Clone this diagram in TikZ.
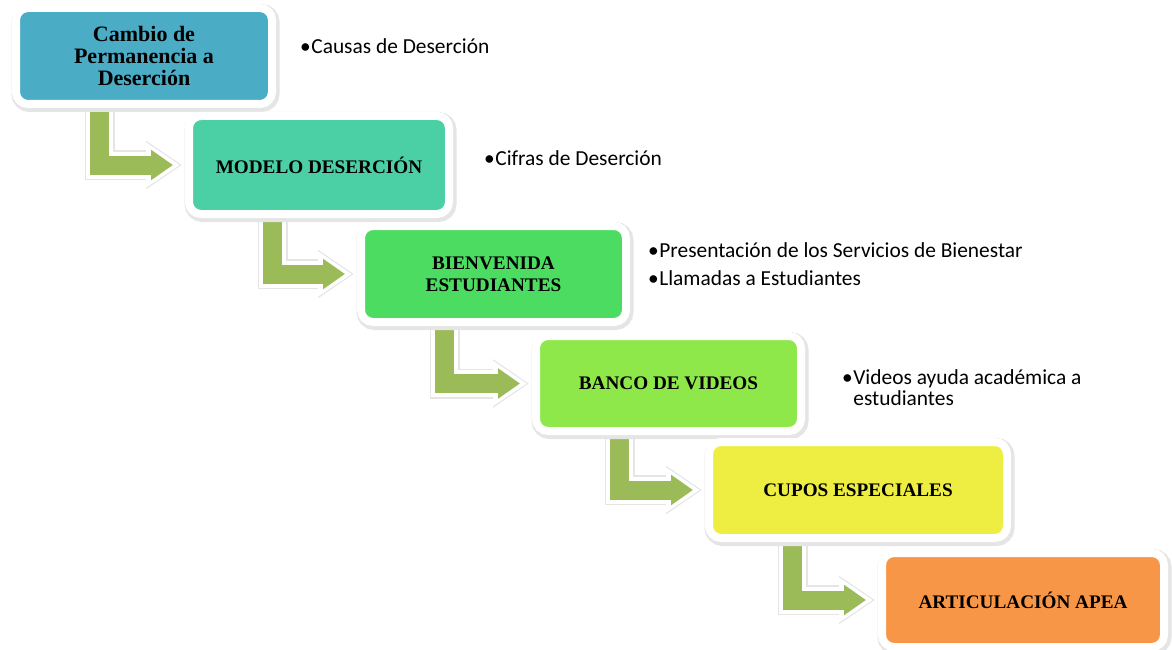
\documentclass[tikz,border=0pt]{standalone}
\usepackage{fontspec}
\setmainfont{Liberation Serif}
\newfontfamily\calib{Carlito}
\usetikzlibrary{arrows.meta,calc,backgrounds}
\definecolor{c1}{HTML}{4BACC6}
\definecolor{c2}{HTML}{4BD0A5}
\definecolor{c3}{HTML}{4CDC62}
\definecolor{c4}{HTML}{8EE84A}
\definecolor{c5}{HTML}{EEEE42}
\definecolor{c6}{HTML}{F79646}
\definecolor{arrgr}{HTML}{9BBB59}
\begin{document}
\begin{tikzpicture}[x=1pt,y=-1pt,
  box/.style={rounded corners=12pt, draw=white, line width=8pt, align=center,
    inner sep=0pt, font=\bfseries\fontsize{19.2}{22}\selectfont,
    preaction={draw=black!10, line width=12pt, transform canvas={xshift=1.5pt,yshift=-2pt}}},
  btxt/.style={anchor=west, inner sep=0pt, align=left, font=\calib\fontsize{21.4}{28}\selectfont},
  arrshadow/.style={draw=black!10, line width=30pt, -{Triangle[width=46pt,length=36pt]}},
  arrwhite/.style={draw=white, line width=27pt, -{Triangle[width=43pt,length=34pt]}},
  arrgreen/.style={draw=arrgr, line width=19pt, -{Triangle[width=29pt,length=22pt]}}
]
\useasboundingbox (0,0) rectangle (1172,650);

\node[box, fill=c1, minimum width=256pt, minimum height=96pt, font=\bfseries\fontsize{22}{22}\selectfont] (b1) at (144,56) {Cambio de\\Permanencia a\\Deserción};
\node[box, fill=c2, minimum width=260pt, minimum height=98pt] (b2) at (319,165) {MODELO DESERCIÓN};
\node[box, fill=c3, minimum width=265pt, minimum height=96pt] (b3) at (493.5,274) {BIENVENIDA\\ESTUDIANTES};
\node[box, fill=c4, minimum width=265pt, minimum height=95pt] (b4) at (668.5,383.5) {BANCO DE VIDEOS};
\node[box, fill=c5, minimum width=298pt, minimum height=96pt] (b5) at (858,490) {CUPOS ESPECIALES};
\node[box, fill=c6, minimum width=282pt, minimum height=94pt] (b6) at (1023,600) {ARTICULACIÓN APEA};

\node[btxt] (t1) at (300,46) {•\hspace{0.5pt}Causas de Deserción};
\node[btxt] (t2) at (484,158) {•\hspace{0.5pt}Cifras de Deserción};
\node[btxt] (t3) at (648,265.5) {\begin{tabular}{@{}l@{\hspace{0.5pt}}l@{}}•&Presentación de los Servicios de Bienestar\\•&Llamadas a Estudiantes\end{tabular}};
\node[btxt, font=\calib\fontsize{21.4}{21}\selectfont] (t4) at (842,391) {\begin{tabular}{@{}l@{\hspace{0.5pt}}l@{}}•&Videos ayuda académica a\\&estudiantes\end{tabular}};

\begin{scope}[on background layer]
\foreach \a/\b in {b1/b2,b2/b3,b3/b4,b4/b5,b5/b6}{
  \draw[arrshadow, xshift=2pt, yshift=-2pt] ($(\a.south west)+(87.5,-5)$) |- ($(\b.west)+(-3,0)$);
  \draw[arrwhite] ($(\a.south west)+(87.5,-5)$) |- ($(\b.west)+(-5,0)$);
  \draw[arrgreen] ($(\a.south west)+(87.5,-5)$) |- ($(\b.west)+(-12,0)$);
}
\end{scope}
\end{tikzpicture}
\end{document}
